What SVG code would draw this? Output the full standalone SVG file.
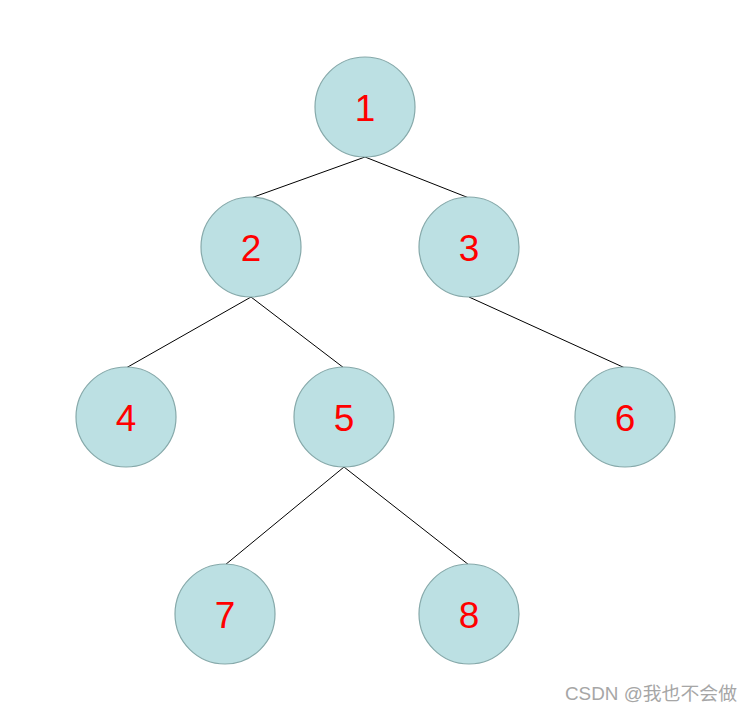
<svg xmlns="http://www.w3.org/2000/svg" width="753" height="714" viewBox="0 0 753 714">
<style>
.n circle{fill:#bce0e3;stroke:#86a9aa;stroke-width:1.2}
.n text{font-family:"Liberation Sans",Arial,sans-serif;font-size:37px;fill:#ff0000;text-anchor:middle;dominant-baseline:central}
#edges line{stroke:#000;stroke-width:1}
.wm{font-family:"Liberation Sans","Noto Sans CJK SC",sans-serif;font-size:18px;fill:#a6a6a6}
</style>
<rect width="753" height="714" fill="#fff"/>
<g id="edges">
<line x1="365" y1="157" x2="251" y2="198"/>
<line x1="365" y1="157" x2="469" y2="198"/>
<line x1="251" y1="297" x2="126" y2="368"/>
<line x1="251" y1="297" x2="344" y2="368"/>
<line x1="469" y1="297" x2="625" y2="368"/>
<line x1="344" y1="467" x2="225" y2="565"/>
<line x1="344" y1="467" x2="469" y2="565"/>
</g>
<g id="n1" class="n"><circle cx="365" cy="107" r="50"/><text x="365" y="108">1</text></g>
<g id="n2" class="n"><circle cx="251" cy="247" r="50"/><text x="251" y="248">2</text></g>
<g id="n3" class="n"><circle cx="469" cy="247" r="50"/><text x="469" y="248">3</text></g>
<g id="n4" class="n"><circle cx="126" cy="417" r="50"/><text x="126" y="418">4</text></g>
<g id="n5" class="n"><circle cx="344" cy="417" r="50"/><text x="344" y="418">5</text></g>
<g id="n6" class="n"><circle cx="625" cy="417" r="50"/><text x="625" y="418">6</text></g>
<g id="n7" class="n"><circle cx="225" cy="614" r="50"/><text x="225" y="615">7</text></g>
<g id="n8" class="n"><circle cx="469" cy="614" r="50"/><text x="469" y="615">8</text></g>
<text class="wm" x="565" y="700" textLength="172" lengthAdjust="spacingAndGlyphs">CSDN @我也不会做</text>
</svg>
